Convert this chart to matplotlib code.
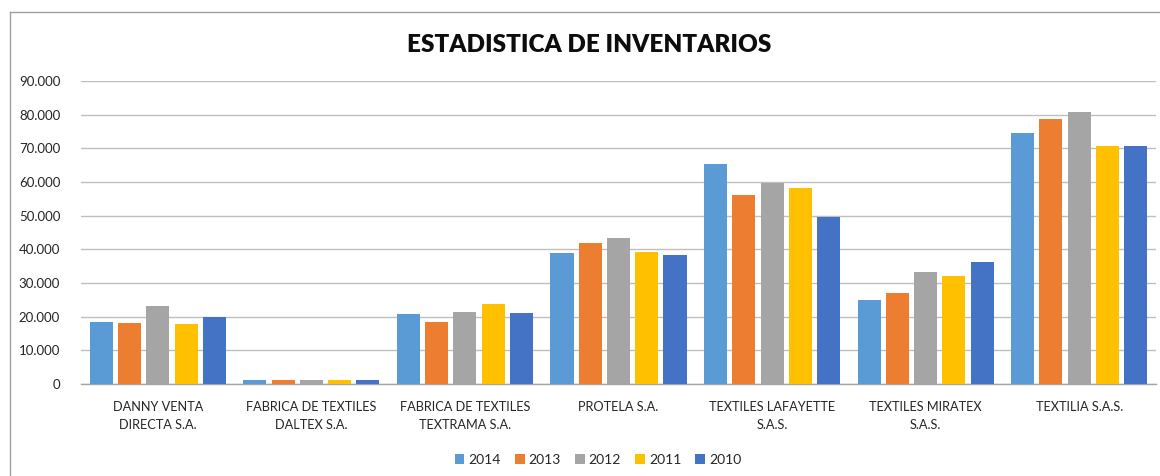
import matplotlib
matplotlib.use("Agg")
import matplotlib.pyplot as plt
import numpy as np
from matplotlib.ticker import FuncFormatter
from matplotlib.lines import Line2D

plt.rcParams['font.family'] = ['Lato', 'DejaVu Sans']

categories = ["DANNY VENTA\nDIRECTA S.A.", "FABRICA DE TEXTILES\nDALTEX S.A.",
              "FABRICA DE TEXTILES\nTEXTRAMA S.A.", "PROTELA S.A.",
              "TEXTILES LAFAYETTE\nS.A.S.", "TEXTILES MIRATEX\nS.A.S.", "TEXTILIA S.A.S."]
series = ["2014", "2013", "2012", "2011", "2010"]
v2014 = [18300, 1300, 20900, 38900, 65200, 25000, 74700]
v2013 = [18200, 1300, 18300, 41900, 56200, 27000, 78800]
v2012 = [23300, 1200, 21400, 43300, 59800, 33400, 80900]
v2011 = [17900, 1300, 23800, 39200, 58100, 32100, 70700]
v2010 = [19900, 1100, 21100, 38200, 49600, 36300, 70800]
values = [v2014, v2013, v2012, v2011, v2010]
colors = ["#5B9BD5", "#ED7D31", "#A5A5A5", "#FFC000", "#4472C4"]

fig = plt.figure(figsize=(11.6, 4.76), dpi=100)
ax = fig.add_axes([81/1160, 1 - 384/476, (1156-81)/1160, (384-81)/476])

x = np.arange(len(categories))
step = 0.184
width = 0.15
for i, (s, vals, c) in enumerate(zip(series, values, colors)):
    ax.bar(x + (i - 2) * step, vals, width=width, color=c, label=s, zorder=3)

ax.set_xlim(-0.5, len(categories) - 0.5)
ax.set_ylim(0, 90000)
ax.set_yticks(np.arange(0, 90001, 10000))
ax.yaxis.set_major_formatter(FuncFormatter(lambda v, p: "0" if v == 0 else f"{int(v):,}".replace(",", ".")))
ax.set_xticks(x)
ax.set_xticklabels(categories, fontsize=9.2, color="#262626", linespacing=1.65)
ax.tick_params(axis='both', length=0, colors="#262626")
ax.tick_params(axis='x', pad=12)
ax.tick_params(axis='y', pad=15, labelsize=9.5)
ax.grid(axis='y', color="#BFBFBF", linewidth=1, zorder=0)
for sp in ["left", "right", "top"]:
    ax.spines[sp].set_visible(False)
ax.spines["bottom"].set_color("#A6A6A6")
ax.spines["bottom"].set_linewidth(1)

fig.text(589/1160, 1 - 45/476, "ESTADISTICA DE INVENTARIOS", ha="center", va="center",
         fontsize=17.5, fontweight="heavy", color="#0D0D0D")

leg = fig.legend(loc="center", bbox_to_anchor=(598/1160, 1 - 460/476), ncol=5, frameon=False,
                 fontsize=10, handlelength=0.7, handleheight=0.7, handletextpad=0.3,
                 columnspacing=1.0)
for t in leg.get_texts():
    t.set_color("#262626")

# frame (left and top edges visible)
fig.add_artist(Line2D([10/1160, 10/1160], [0, 1 - 12/476], transform=fig.transFigure, color="#A0A0A0", linewidth=1))
fig.add_artist(Line2D([10/1160, 1], [1 - 12/476, 1 - 12/476], transform=fig.transFigure, color="#A0A0A0", linewidth=1))

fig.savefig("out.png", dpi=100)
